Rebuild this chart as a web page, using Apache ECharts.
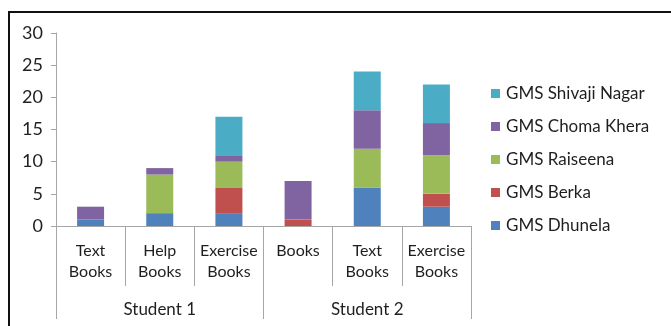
<!DOCTYPE html>
<html>
<head>
<meta charset="utf-8">
<script src="https://cdn.jsdelivr.net/npm/echarts@6/dist/echarts.min.js"></script>
<style>
  html, body { margin: 0; padding: 0; background: #fff; }
  #chart { width: 671px; height: 326px; }
</style>
</head>
<body>
<div id="chart"></div>
<script>
// Book categories per student, and the two student groups
const categories = ['Text\nBooks', 'Help\nBooks', 'Exercise\nBooks', 'Books\n', 'Text\nBooks', 'Exercise\nBooks'];
const groups = ['Student 1', 'Student 2'];

// Stacked values per school (bottom to top)
const dhunela      = [1, 2, 2, 0, 6, 3];
const berka        = [0, 0, 4, 1, 0, 2];
const raiseena     = [0, 6, 4, 0, 6, 6];
const chomaKhera   = [2, 1, 1, 6, 6, 5];
const shivajiNagar = [0, 0, 6, 0, 6, 6];

const yTicks = [0, 5, 10, 15, 20, 25, 30];

const seriesDefs = [
  { name: 'GMS Dhunela', data: dhunela, color: '#4F81BD' },
  { name: 'GMS Berka', data: berka, color: '#C0504D' },
  { name: 'GMS Raiseena', data: raiseena, color: '#9BBB59' },
  { name: 'GMS Choma Khera', data: chomaKhera, color: '#8064A2' },
  { name: 'GMS Shivaji Nagar', data: shivajiNagar, color: '#4BACC6' }
];

const font = 'Lato, "Open Sans", sans-serif';
const axisGray = '#A6A6A6';
const textColor = '#1F1F1F';

const chart = echarts.init(document.getElementById('chart'), null, { renderer: 'canvas' });
chart.setOption({
  animation: false,
  textStyle: { fontFamily: font },
  graphic: [{
    type: 'rect',
    shape: { x: 9, y: 12, width: 720, height: 400 },
    style: { fill: 'none', stroke: '#111', lineWidth: 2 },
    silent: true
  }],
  grid: { left: 56, right: 200, top: 33, bottom: 100 },
  legend: {
    orient: 'vertical',
    left: 486,
    top: 80,
    itemWidth: 9,
    itemHeight: 9,
    itemGap: 16,
    icon: 'rect',
    textStyle: { fontFamily: font, fontSize: 17, color: textColor, padding: [0, 0, 0, 1] },
    data: seriesDefs.map(s => s.name).reverse()
  },
  xAxis: [{
    type: 'category',
    data: categories,
    position: 'bottom',
    axisLine: { lineStyle: { color: axisGray, width: 1 } },
    axisTick: { show: true, length: 60, interval: 0, lineStyle: { color: axisGray } },
    axisLabel: {
      interval: 0,
      margin: 14,
      color: textColor,
      fontSize: 16,
      fontFamily: font,
      lineHeight: 21,
      verticalAlign: 'top'
    }
  }, {
    type: 'category',
    data: groups,
    position: 'bottom',
    axisLine: { show: false },
    axisTick: { show: true, length: 93, interval: 0, lineStyle: { color: axisGray } },
    axisLabel: {
      interval: 0,
      margin: 75,
      color: textColor,
      fontSize: 17,
      fontFamily: font
    }
  }],
  yAxis: {
    type: 'value',
    min: yTicks[0],
    max: yTicks[yTicks.length - 1],
    interval: 5,
    axisLine: { show: true, lineStyle: { color: axisGray } },
    axisTick: { show: true, length: 5, lineStyle: { color: axisGray } },
    splitLine: { show: false },
    axisLabel: { color: textColor, fontSize: 18, fontFamily: font, margin: 13 }
  },
  series: seriesDefs.map(s => ({
    name: s.name,
    type: 'bar',
    stack: 'total',
    data: s.data,
    barWidth: 27,
    itemStyle: { color: s.color },
    xAxisIndex: 0
  }))
});
</script>
</body>
</html>
